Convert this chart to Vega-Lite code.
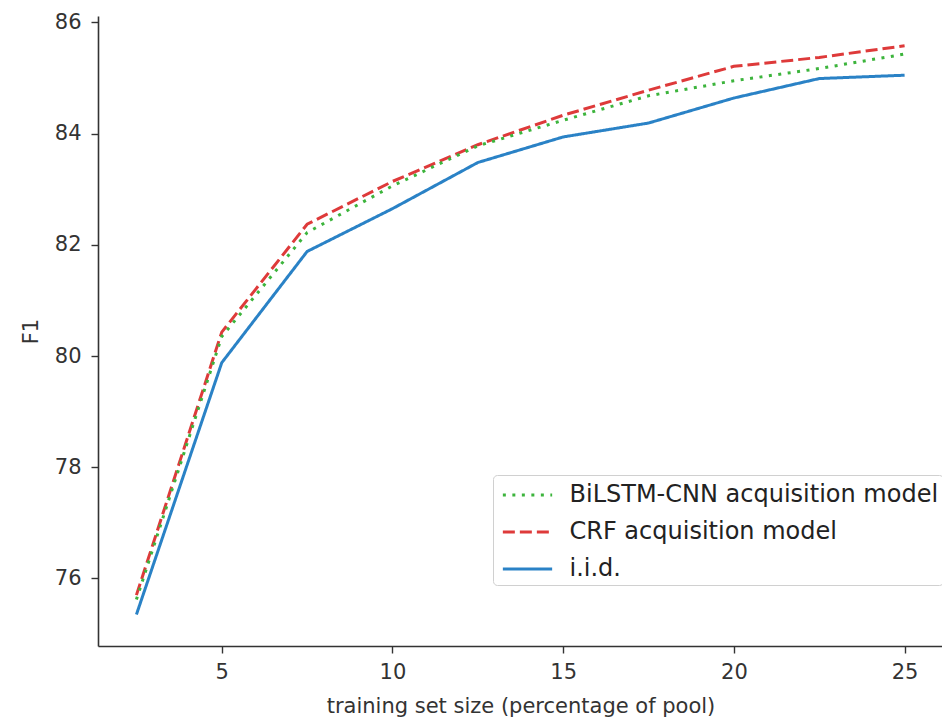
{
  "$schema": "https://vega.github.io/schema/vega-lite/v6.json",
  "autosize": "none",
  "padding": {"left": 98, "top": 16, "right": 0, "bottom": 73},
  "width": 845,
  "height": 630,
  "background": "white",
  "config": {
    "view": {"stroke": null},
    "font": "DejaVu Sans",
    "axis": {
      "grid": false,
      "domainColor": "#333333",
      "domainWidth": 1.6,
      "tickColor": "#333333",
      "tickWidth": 1.4,
      "tickSize": 7,
      "labelFont": "DejaVu Sans",
      "labelFontSize": 21,
      "labelColor": "#333333",
      "titleFont": "DejaVu Sans",
      "titleFontSize": 21,
      "titleFontWeight": "normal",
      "titleColor": "#333333"
    }
  },
  "data": {
    "values": [
      {"size": 2.5, "F1": 75.35, "model": "i.i.d."},
      {"size": 5, "F1": 79.88, "model": "i.i.d."},
      {"size": 7.5, "F1": 81.88, "model": "i.i.d."},
      {"size": 10, "F1": 82.65, "model": "i.i.d."},
      {"size": 12.5, "F1": 83.48, "model": "i.i.d."},
      {"size": 15, "F1": 83.94, "model": "i.i.d."},
      {"size": 17.5, "F1": 84.19, "model": "i.i.d."},
      {"size": 20, "F1": 84.64, "model": "i.i.d."},
      {"size": 22.5, "F1": 84.99, "model": "i.i.d."},
      {"size": 25, "F1": 85.05, "model": "i.i.d."},
      {"size": 2.5, "F1": 75.7, "model": "CRF acquisition model"},
      {"size": 5, "F1": 80.43, "model": "CRF acquisition model"},
      {"size": 7.5, "F1": 82.37, "model": "CRF acquisition model"},
      {"size": 10, "F1": 83.14, "model": "CRF acquisition model"},
      {"size": 12.5, "F1": 83.8, "model": "CRF acquisition model"},
      {"size": 15, "F1": 84.33, "model": "CRF acquisition model"},
      {"size": 17.5, "F1": 84.78, "model": "CRF acquisition model"},
      {"size": 20, "F1": 85.21, "model": "CRF acquisition model"},
      {"size": 22.5, "F1": 85.37, "model": "CRF acquisition model"},
      {"size": 25, "F1": 85.58, "model": "CRF acquisition model"},
      {"size": 2.5, "F1": 75.62, "model": "BiLSTM-CNN acquisition model"},
      {"size": 5, "F1": 80.35, "model": "BiLSTM-CNN acquisition model"},
      {"size": 7.5, "F1": 82.22, "model": "BiLSTM-CNN acquisition model"},
      {"size": 10, "F1": 83.06, "model": "BiLSTM-CNN acquisition model"},
      {"size": 12.5, "F1": 83.78, "model": "BiLSTM-CNN acquisition model"},
      {"size": 15, "F1": 84.24, "model": "BiLSTM-CNN acquisition model"},
      {"size": 17.5, "F1": 84.68, "model": "BiLSTM-CNN acquisition model"},
      {"size": 20, "F1": 84.95, "model": "BiLSTM-CNN acquisition model"},
      {"size": 22.5, "F1": 85.17, "model": "BiLSTM-CNN acquisition model"},
      {"size": 25, "F1": 85.43, "model": "BiLSTM-CNN acquisition model"}
    ]
  },
  "mark": {"type": "line", "strokeWidth": 3, "clip": true},
  "encoding": {
    "x": {
      "field": "size",
      "type": "quantitative",
      "title": "training set size (percentage of pool)",
      "scale": {"domain": [1.375, 26.125], "nice": false, "zero": false},
      "axis": {"values": [5, 10, 15, 20, 25], "labelPadding": 8, "titlePadding": 13}
    },
    "y": {
      "field": "F1",
      "type": "quantitative",
      "title": "F1",
      "scale": {"domain": [74.785, 86.115], "nice": false, "zero": false},
      "axis": {"values": [76, 78, 80, 82, 84, 86], "labelPadding": 10, "titlePadding": 13}
    },
    "color": {
      "field": "model",
      "type": "nominal",
      "scale": {
        "domain": ["BiLSTM-CNN acquisition model", "CRF acquisition model", "i.i.d."],
        "range": ["#3cb43c", "#de3a3a", "#2a82c6"]
      },
      "legend": {
        "orient": "none",
        "legendX": 395,
        "legendY": 459,
        "title": null,
        "symbolType": "M-1.7,0H1.7",
        "symbolSize": 841,
        "symbolStrokeWidth": 3,
        "symbolOffset": 14.5,
        "labelFont": "DejaVu Sans",
        "labelFontSize": 24,
        "labelColor": "#222222",
        "labelLimit": 1000,
        "labelOffset": 26,
        "rowPadding": 9,
        "padding": 4,
        "strokeColor": "#d0d0d0",
        "fillColor": "white",
        "cornerRadius": 4
      }
    },
    "strokeDash": {
      "field": "model",
      "type": "nominal",
      "scale": {
        "domain": ["BiLSTM-CNN acquisition model", "CRF acquisition model", "i.i.d."],
        "range": [[3, 6.5], [12, 5], [1, 0]]
      },
      "legend": null
    }
  }
}
